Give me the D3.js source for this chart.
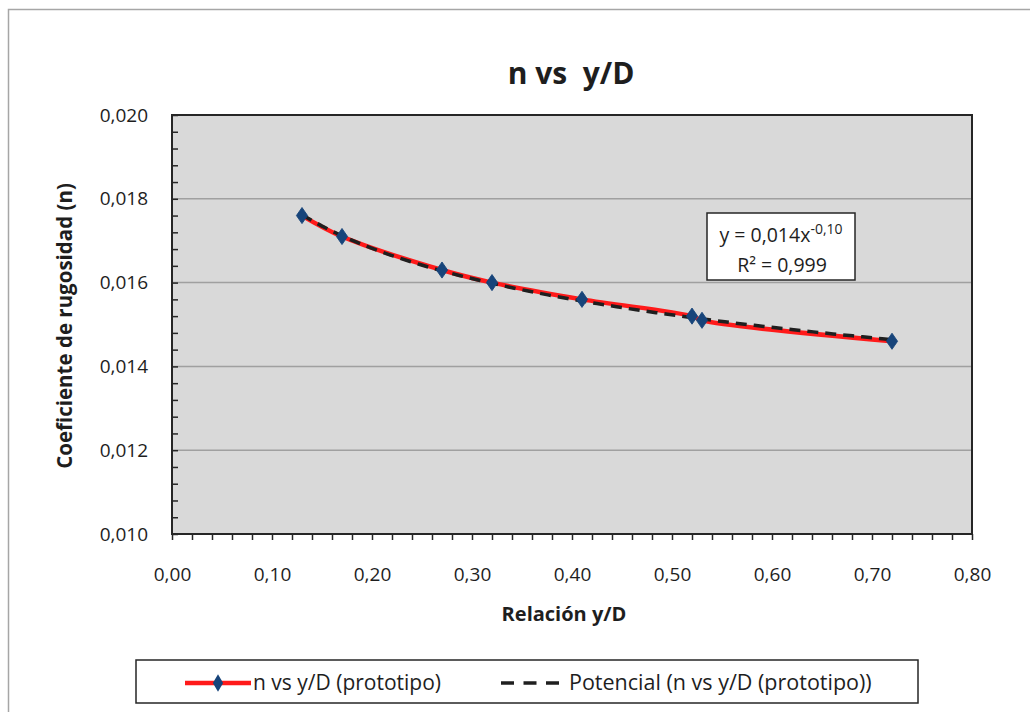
<!DOCTYPE html>
<html>
<head>
<meta charset="utf-8">
<script src="https://cdn.jsdelivr.net/npm/d3@7"></script>
<style>
  body { margin: 0; background: #fff; }
  text { font-family: "Open Sans", Lato, sans-serif; fill: #1e1e1e; }
</style>
</head>
<body>
<svg id="chart" width="1030" height="712"></svg>
<script>
// data
var relYD = [0.13, 0.17, 0.27, 0.32, 0.41, 0.52, 0.53, 0.72];
var nValues = [0.0176, 0.0171, 0.0163, 0.0160, 0.0156, 0.0152, 0.0151, 0.0146];
var xTicks = [0, 0.1, 0.2, 0.3, 0.4, 0.5, 0.6, 0.7, 0.8];
var yTicks = [0.010, 0.012, 0.014, 0.016, 0.018, 0.020];
var seriesName = "n vs y/D (prototipo)";
var trendName = "Potencial (n vs y/D (prototipo))";
var eqLabel = ["y = 0,014x", "-0,10", "R² = 0,999"];

var svg = d3.select("#chart");

// outer chart frame
svg.append("rect")
    .attr("x", 8.5).attr("y", 9.5)
    .attr("width", 1040).attr("height", 720)
    .style("fill", "#fff")
    .style("stroke", "#a6a6a6")
    .style("stroke-width", 1.5);

var plot = {left: 172, right: 972, top: 115, bottom: 534};

var xScale = d3.scaleLinear().domain([0, 0.8]).range([plot.left, plot.right]);
var yScale = d3.scaleLinear().domain([0.010, 0.020]).range([plot.bottom, plot.top]);

var fmt = function(d, p) { return d.toFixed(p).replace(".", ","); };

// plot background
svg.append("rect")
    .attr("x", plot.left).attr("y", plot.top)
    .attr("width", plot.right - plot.left)
    .attr("height", plot.bottom - plot.top)
    .style("fill", "#d9d9d9");

// gridlines
svg.append("g")
    .selectAll("line")
    .data(yTicks.slice(1, -1))
    .enter().append("line")
    .attr("x1", plot.left).attr("x2", plot.right)
    .attr("y1", function(d) { return yScale(d); })
    .attr("y2", function(d) { return yScale(d); })
    .style("stroke", "#a0a0a0")
    .style("stroke-width", 1.5);

// plot border
svg.append("rect")
    .attr("x", plot.left).attr("y", plot.top)
    .attr("width", plot.right - plot.left)
    .attr("height", plot.bottom - plot.top)
    .style("fill", "none")
    .style("stroke", "#262626")
    .style("stroke-width", 2);

// Y axis (ticks inside, minor every 0.0004)
var yMinor = d3.range(0, 26).map(function(i) { return 0.010 + i * 0.0004; });
svg.append("g")
    .attr("transform", "translate(" + plot.left + ",0)")
    .call(d3.axisRight(yScale).tickValues(yMinor).tickSize(6).tickFormat(""))
    .call(function(g) { g.select(".domain").remove(); })
    .call(function(g) { g.selectAll("line").style("stroke", "#262626").style("stroke-width", 1.5); });

svg.append("g")
    .attr("transform", "translate(" + plot.left + ",0)")
    .call(d3.axisLeft(yScale).tickValues(yTicks).tickSize(0).tickPadding(24)
        .tickFormat(function(d) { return fmt(d, 3); }))
    .call(function(g) { g.select(".domain").remove(); })
    .call(function(g) {
        g.selectAll("text")
            .style("font-family", "'Open Sans', sans-serif")
            .style("font-size", "19px")
            .style("fill", "#1e1e1e");
    });

// X axis (ticks outside, minor every 0.02)
var xMinor = d3.range(0, 41).map(function(i) { return i * 0.02; });
svg.append("g")
    .attr("transform", "translate(0," + plot.bottom + ")")
    .call(d3.axisBottom(xScale).tickValues(xMinor).tickSize(6).tickFormat(""))
    .call(function(g) { g.select(".domain").remove(); })
    .call(function(g) { g.selectAll("line").style("stroke", "#262626").style("stroke-width", 1.5); });

svg.append("g")
    .attr("transform", "translate(0," + plot.bottom + ")")
    .call(d3.axisBottom(xScale).tickValues(xTicks).tickSize(0).tickPadding(34)
        .tickFormat(function(d) { return fmt(d, 2); }))
    .call(function(g) { g.select(".domain").remove(); })
    .call(function(g) {
        g.selectAll("text")
            .style("font-family", "'Open Sans', sans-serif")
            .style("font-size", "19px")
            .style("fill", "#1e1e1e");
    });

// title and axis titles
svg.append("text")
    .attr("x", 571).attr("y", 84)
    .attr("text-anchor", "middle")
    .style("font-size", "30px")
    .style("font-weight", "bold")
    .style("white-space", "pre")
    .text("n vs  y/D");

svg.append("text")
    .attr("x", 564).attr("y", 621)
    .attr("text-anchor", "middle")
    .style("font-size", "20px")
    .style("font-weight", "bold")
    .text("Relación y/D");

svg.append("text")
    .attr("transform", "translate(72,326) rotate(-90)")
    .attr("text-anchor", "middle")
    .style("font-size", "20.5px")
    .style("font-weight", "bold")
    .text("Coeficiente de rugosidad (n)");

// power trendline fitted to the data (least squares on logs)
var lx = relYD.map(Math.log), ly = nValues.map(Math.log);
var mx = d3.mean(lx), my = d3.mean(ly);
var b = d3.sum(lx, function(v, i) { return (v - mx) * (ly[i] - my); }) /
        d3.sum(lx, function(v) { return (v - mx) * (v - mx); });
var a = Math.exp(my - b * mx);
var trendX = d3.range(0, 61).map(function(i) {
    return relYD[0] + (relYD[relYD.length - 1] - relYD[0]) * i / 60;
});
var trend = trendX.map(function(x) { return {x: x, y: a * Math.pow(x, b)}; });

var points = relYD.map(function(x, i) { return {x: x, y: nValues[i]}; });

var line = d3.line()
    .x(function(d) { return xScale(d.x); })
    .y(function(d) { return yScale(d.y); });

svg.append("path")
    .datum(points)
    .attr("d", line.curve(d3.curveCatmullRom.alpha(0.5)))
    .style("fill", "none")
    .style("stroke", "#ff1a1a")
    .style("stroke-width", 4.5);

svg.append("path")
    .datum(trend)
    .attr("d", line.curve(d3.curveLinear))
    .style("fill", "none")
    .style("stroke", "#1f1f1f")
    .style("stroke-width", 3.5)
    .style("stroke-dasharray", "11,7");

var diamond = d3.symbol().type(d3.symbolDiamond).size(75);
svg.append("g")
    .selectAll("path")
    .data(points)
    .enter().append("path")
    .attr("d", diamond)
    .attr("transform", function(d) {
        return "translate(" + xScale(d.x) + "," + yScale(d.y) + ") scale(1.2,1)";
    })
    .style("fill", "#17447a")
    .style("stroke", "#17447a")
    .style("stroke-width", 0.8);

// equation box
var eq = svg.append("g");
eq.append("rect")
    .attr("x", 707).attr("y", 213)
    .attr("width", 148).attr("height", 67)
    .style("fill", "#fff")
    .style("stroke", "#262626")
    .style("stroke-width", 1.5);
var eq1 = eq.append("text")
    .attr("x", 781).attr("y", 242)
    .attr("text-anchor", "middle")
    .style("font-size", "19.5px");
eq1.append("tspan").text(eqLabel[0]);
eq1.append("tspan").attr("dy", -8).style("font-size", "14px").text(eqLabel[1]);
eq.append("text")
    .attr("x", 782).attr("y", 272)
    .attr("text-anchor", "middle")
    .style("font-size", "19.5px")
    .text(eqLabel[2]);

// legend
var lg = svg.append("g");
lg.append("rect")
    .attr("x", 136).attr("y", 660)
    .attr("width", 782).attr("height", 43)
    .style("fill", "#fff")
    .style("stroke", "#262626")
    .style("stroke-width", 1.5);
lg.append("line")
    .attr("x1", 185).attr("x2", 251).attr("y1", 683).attr("y2", 683)
    .style("stroke", "#ff1a1a").style("stroke-width", 4.5);
lg.append("path")
    .attr("d", diamond)
    .attr("transform", "translate(218,683) scale(1.1,1.1)")
    .style("fill", "#17447a");
lg.append("text")
    .attr("x", 253).attr("y", 690)
    .style("font-size", "21px")
    .text(seriesName);
lg.append("line")
    .attr("x1", 501).attr("x2", 566).attr("y1", 683).attr("y2", 683)
    .style("stroke", "#1f1f1f").style("stroke-width", 3.5)
    .style("stroke-dasharray", "13,9.5");
lg.append("text")
    .attr("x", 569).attr("y", 690)
    .style("font-size", "21.5px")
    .text(trendName);
</script>
</body>
</html>
